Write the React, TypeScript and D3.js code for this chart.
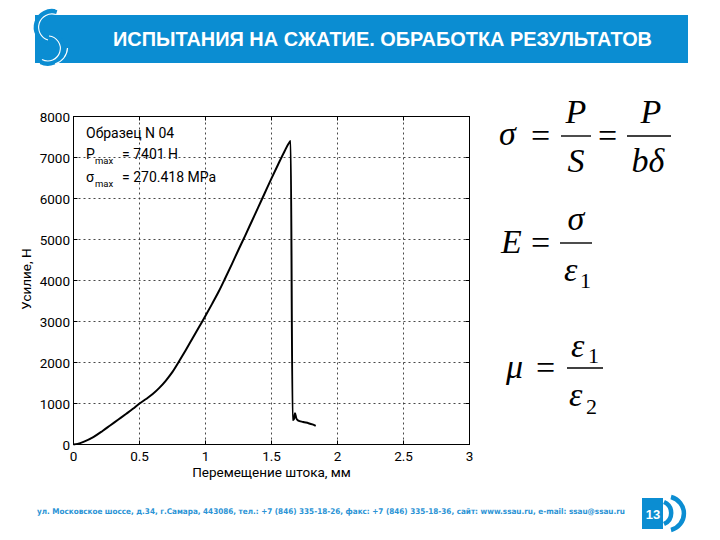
import React from "react";
import * as d3 from "d3";

const xTicks = [0, 0.5, 1, 1.5, 2, 2.5, 3];
const yTicks = [0, 1000, 2000, 3000, 4000, 5000, 6000, 7000, 8000];
const xLabels = ["0", "0.5", "1", "1.5", "2", "2.5", "3"];

// displacement (mm)
const disp = [
  0, 0.03, 0.08, 0.15, 0.22, 0.28, 0.34, 0.4, 0.45, 0.5, 0.55, 0.6, 0.65, 0.7, 0.75, 0.8,
  0.85, 0.9, 0.95, 1.0, 1.05, 1.1, 1.15, 1.2, 1.25, 1.3, 1.35, 1.4, 1.45, 1.5, 1.55, 1.6,
  1.63, 1.645, 1.66, 1.67, 1.678, 1.688, 1.7, 1.74, 1.78, 1.81, 1.835,
];
// force (N)
const force = [
  0, 15, 70, 180, 330, 470, 610, 750, 870, 1000, 1110, 1230, 1380, 1560, 1770, 2030,
  2300, 2580, 2860, 3140, 3430, 3730, 4060, 4400, 4750, 5090, 5440, 5790, 6140, 6490, 6830, 7160,
  7340, 7401, 600, 620, 760, 640, 590, 550, 520, 490, 455,
];

const titleText = "ИСПЫТАНИЯ НА СЖАТИЕ. ОБРАБОТКА РЕЗУЛЬТАТОВ";
const footerText =
  "ул. Московское шоссе, д.34, г.Самара, 443086, тел.: +7 (846) 335-18-26, факс: +7 (846) 335-18-36, сайт: www.ssau.ru, e-mail: ssau@ssau.ru";
const sampleLabel = "Образец N 04";
const pmaxValue = "= 7401 H";
const smaxValue = "= 270.418 MPa";
const xTitle = "Перемещение штока, мм";
const yTitle = "Усилие, Н";
const pageNumber = "13";

const BLUE = "#0b8dd2";

function Band({ d }: { d: string }) {
  return (
    <g fill="none">
      <path d={d} stroke={BLUE} strokeWidth={10} />
      <path d={d} stroke="#fff" strokeWidth={1.1} />
    </g>
  );
}

export default function App() {
  const x = d3.scaleLinear().domain([0, 3]).range([73.5, 469.5]);
  const y = d3.scaleLinear().domain([0, 8000]).range([444.5, 116.5]);
  const pts: [number, number][] = disp.map((d, i) => [d, force[i]]);
  const line = d3
    .line<[number, number]>()
    .x((d) => x(d[0]))
    .y((d) => y(d[1]))
    .curve(d3.curveMonotoneX);
  const font = "Roboto, Arial, sans-serif";
  const serifStyle = {
    fontFamily: "'Liberation Serif', 'Times New Roman', 'DejaVu Serif', serif",
  };

  return (
    <svg
      width={720}
      height={540}
      style={{ position: "absolute", left: 0, top: 0, background: "#fff" }}
    >
      <rect x={0} y={0} width={720} height={540} fill="#fff" />
      {/* header */}
      <rect x={35} y={15} width={653} height={48} fill={BLUE} />
      <Band d="M 56 14.5 A 13 13 0 1 0 48 40" />
      <Band d="M 49 36 A 12.5 12.5 0 1 1 42 59.5" />
      <path d="M 58 10 A 18 18 0 0 0 30.5 27" fill="none" stroke="#fff" strokeWidth={1.2} />
      <path d="M 67.5 48 A 17.5 17.5 0 0 1 55 64" fill="none" stroke="#fff" strokeWidth={1.2} />
      <text
        x={113}
        y={46}
        fill="#fff"
        fontFamily="'Liberation Sans', Arial, sans-serif"
        fontWeight="bold"
        fontSize={19.5}
        textLength={539}
        lengthAdjust="spacingAndGlyphs"
      >
        {titleText}
      </text>

      {/* grid */}
      <g stroke="#333" strokeWidth={0.9} strokeDasharray="2,3">
        {xTicks.slice(1, -1).map((t) => (
          <line key={"gx" + t} x1={x(t)} x2={x(t)} y1={y(0)} y2={y(8000)} />
        ))}
        {yTicks.slice(1, -1).map((t) => (
          <line key={"gy" + t} x1={x(0)} x2={x(3)} y1={y(t)} y2={y(t)} />
        ))}
      </g>
      <rect
        x={x(0)}
        y={y(8000)}
        width={x(3) - x(0)}
        height={y(0) - y(8000)}
        fill="none"
        stroke="#000"
        strokeWidth={1}
      />
      {/* ticks */}
      <g stroke="#000">
        {xTicks.map((t) => (
          <g key={"tx" + t}>
            <line x1={x(t)} x2={x(t)} y1={y(0)} y2={y(0) - 4} />
            <line x1={x(t)} x2={x(t)} y1={y(8000)} y2={y(8000) + 4} />
          </g>
        ))}
        {yTicks.map((t) => (
          <g key={"ty" + t}>
            <line x1={x(0)} x2={x(0) + 4} y1={y(t)} y2={y(t)} />
            <line x1={x(3)} x2={x(3) - 4} y1={y(t)} y2={y(t)} />
          </g>
        ))}
      </g>
      <g fontFamily={font} fontSize={13.5} fill="#000">
        {xTicks.map((t, i) => (
          <text key={"lx" + t} x={x(t)} y={461} textAnchor="middle">
            {xLabels[i]}
          </text>
        ))}
        {yTicks.map((t) => (
          <text key={"ly" + t} x={70} y={y(t) + 5} textAnchor="end">
            {t}
          </text>
        ))}
        <text x={271.5} y={477} textAnchor="middle">
          {xTitle}
        </text>
        <text transform="translate(31,279) rotate(-90)" textAnchor="middle">
          {yTitle}
        </text>
      </g>

      {/* curve */}
      <path d={line(pts) || ""} fill="none" stroke="#000" strokeWidth={2} strokeLinejoin="round" />

      {/* annotations */}
      <g fontFamily={font} fill="#000">
        <text x={86} y={138} fontSize={14}>
          {sampleLabel}
        </text>
        <text x={86} y={159} fontSize={14}>
          P
        </text>
        <text x={95} y={164} fontSize={9.5}>
          max
        </text>
        <text x={122} y={159} fontSize={14}>
          {pmaxValue}
        </text>
        <text x={86} y={182} fontSize={14}>
          σ
        </text>
        <text x={95} y={187} fontSize={9.5}>
          max
        </text>
        <text x={122} y={182} fontSize={14}>
          {smaxValue}
        </text>
      </g>

      {/* formulas */}
      <g style={serifStyle} fontSize={34} fill="#000">
        <text x={499} y={145} fontStyle="italic">σ</text>
        <text x={531} y={147}>=</text>
        <line x1={561} x2={591} y1={136} y2={136} stroke="#000" strokeWidth={1.4} />
        <text x={576} y={123} fontStyle="italic" textAnchor="middle">P</text>
        <text x={576} y={172} fontStyle="italic" textAnchor="middle">S</text>
        <text x={598} y={147}>=</text>
        <line x1={627} x2={671} y1={136} y2={136} stroke="#000" strokeWidth={1.4} />
        <text x={651} y={123} fontStyle="italic" textAnchor="middle">P</text>
        <text x={648} y={172} fontStyle="italic" textAnchor="middle">bδ</text>

        <text x={501} y={253} fontStyle="italic">E</text>
        <text x={531} y={254}>=</text>
        <line x1={560} x2={592} y1={243} y2={243} stroke="#000" strokeWidth={1.4} />
        <text x={576} y={230} fontStyle="italic" textAnchor="middle">σ</text>
        <text x={564} y={281} fontStyle="italic">ε</text>
        <text x={580} y={288} fontSize={22}>1</text>

        <text x={506} y={378} fontStyle="italic">μ</text>
        <text x={536} y={379}>=</text>
        <line x1={567} x2={603} y1={368} y2={368} stroke="#000" strokeWidth={1.4} />
        <text x={571} y={357} fontStyle="italic">ε</text>
        <text x={588} y={363} fontSize={22}>1</text>
        <text x={569} y={406} fontStyle="italic">ε</text>
        <text x={586} y={414} fontSize={22}>2</text>
      </g>

      {/* footer */}
      <text
        x={37}
        y={514}
        fill="#2a93d5"
        fontFamily="'DejaVu Sans Condensed', 'DejaVu Sans', sans-serif"
        fontWeight="bold"
        fontSize={7.8}
        textLength={588}
        lengthAdjust="spacingAndGlyphs"
      >
        {footerText}
      </text>
      <rect x={642} y={498} width={21} height={31} fill={BLUE} />
      <text
        x={653}
        y={519}
        fill="#fff"
        fontFamily="'Liberation Sans', Arial, sans-serif"
        fontWeight="bold"
        fontSize={13}
        textAnchor="middle"
      >
        {pageNumber}
      </text>
      <g fill="none" stroke={BLUE} strokeWidth={4.5}>
        <path d="M 664 502 A 12 12 0 0 1 664 524" />
        <path d="M 671 497 A 17 17 0 0 1 671 530" />
      </g>
    </svg>
  );
}
